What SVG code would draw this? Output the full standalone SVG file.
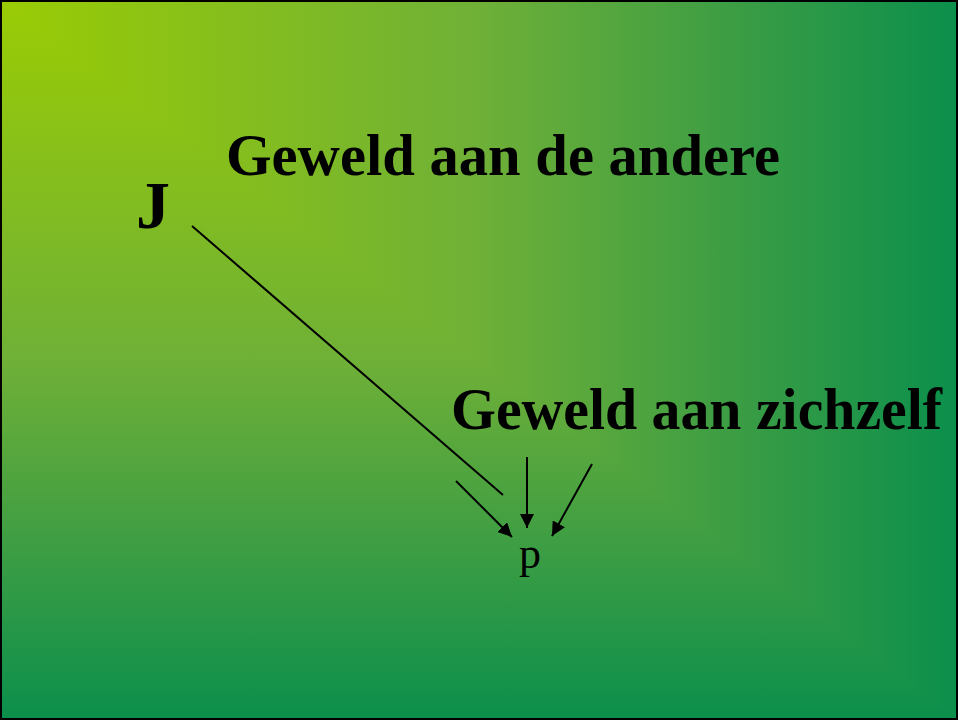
<svg xmlns="http://www.w3.org/2000/svg" width="958" height="720" viewBox="0 0 958 720">
<defs>
<linearGradient id="gh" gradientUnits="userSpaceOnUse" x1="0" y1="0" x2="958" y2="0">
<stop offset="0" stop-color="#9acc04"/>
<stop offset="0.5" stop-color="#6fb037"/>
<stop offset="0.75" stop-color="#3f9e43"/>
<stop offset="1" stop-color="#0b8f4c"/>
</linearGradient>
<linearGradient id="gv" gradientUnits="userSpaceOnUse" x1="0" y1="0" x2="0" y2="720">
<stop offset="0" stop-color="#9acc04"/>
<stop offset="0.5" stop-color="#6fb037"/>
<stop offset="0.75" stop-color="#3f9e43"/>
<stop offset="1" stop-color="#0b8f4c"/>
</linearGradient>
<marker id="ah" viewBox="0 0 10 10" refX="10" refY="5" markerWidth="14" markerHeight="14" markerUnits="userSpaceOnUse" orient="auto">
<path d="M0,0 L10,5 L0,10 Z" fill="#000"/>
</marker>
<style>
.t{font-family:"Liberation Serif","Times New Roman",serif;fill:#000}
.b{font-weight:bold}
.c{stroke:#000;stroke-width:2;fill:none}
</style>
</defs>
<rect x="0" y="0" width="958" height="720" fill="url(#gh)"/>
<polygon points="0,0 958,720 0,720" fill="url(#gv)"/>
<rect x="1" y="1" width="956" height="718" fill="none" stroke="#000" stroke-width="2"/>
<g id="n-J"><text class="t b" x="136" y="228" font-size="68">J</text></g>
<g id="n-andere"><text class="t b" x="226" y="175" font-size="60" textLength="554" lengthAdjust="spacingAndGlyphs">Geweld aan de andere</text></g>
<g id="n-zichzelf"><text class="t b" x="451" y="429" font-size="60" textLength="491" lengthAdjust="spacingAndGlyphs">Geweld aan zichzelf</text></g>
<g id="n-p"><text class="t" x="519" y="568" font-size="44">p</text></g>
<g id="connectors">
<line class="c" x1="192" y1="226" x2="503" y2="495"/>
<line class="c" x1="456" y1="481" x2="512" y2="537" marker-end="url(#ah)"/>
<line class="c" x1="527" y1="457" x2="527" y2="528" marker-end="url(#ah)"/>
<line class="c" x1="592" y1="464" x2="552" y2="536" marker-end="url(#ah)"/>
</g>
</svg>
